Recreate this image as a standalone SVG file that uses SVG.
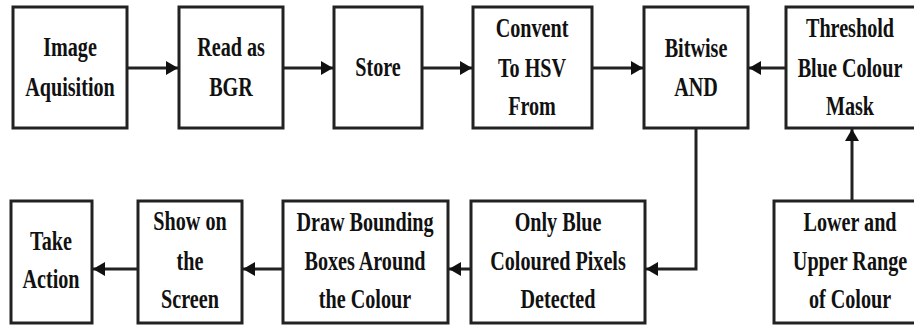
<svg xmlns="http://www.w3.org/2000/svg" width="914" height="325" viewBox="0 0 914 325">
<defs>
<marker id="ah" viewBox="0 0 12 14" refX="12" refY="7" markerWidth="12" markerHeight="14" markerUnits="userSpaceOnUse" orient="auto">
<path d="M0,0 L12,7 L0,14 Z" fill="#111"/>
</marker>
</defs>
<style>
rect{fill:#fff;stroke:#222;stroke-width:3}
text{font-family:"Liberation Serif","Times New Roman",serif;font-weight:bold;font-size:28px;fill:#111;text-anchor:middle}
.c{fill:none;stroke:#222;stroke-width:3}
</style>
<rect x="0" y="0" width="914" height="325" style="stroke:none;fill:#fff"/>
<g id="n1"><rect x="13" y="7" width="114" height="121"/>
<text transform="translate(70,56) scale(0.72,1)">Image</text>
<text transform="translate(70,96) scale(0.72,1)">Aquisition</text></g>
<g id="n2"><rect x="179" y="7" width="104" height="121"/>
<text transform="translate(231,56) scale(0.72,1)">Read as</text>
<text transform="translate(231,96) scale(0.72,1)">BGR</text></g>
<g id="n3"><rect x="334" y="7" width="88" height="121"/>
<text transform="translate(378,76) scale(0.72,1)">Store</text></g>
<g id="n4"><rect x="473" y="7" width="119" height="121"/>
<text transform="translate(532,37) scale(0.72,1)">Convent</text>
<text transform="translate(532,77) scale(0.72,1)">To HSV</text>
<text transform="translate(532,115) scale(0.72,1)">From</text></g>
<g id="n5"><rect x="644" y="7" width="104" height="121"/>
<text transform="translate(696,57) scale(0.72,1)">Bitwise</text>
<text transform="translate(696,96) scale(0.72,1)">AND</text></g>
<g id="n6"><rect x="786" y="7" width="140" height="121"/>
<text transform="translate(850,37) scale(0.72,1)">Threshold</text>
<text transform="translate(850,77) scale(0.72,1)">Blue Colour</text>
<text transform="translate(850,115) scale(0.72,1)">Mask</text></g>
<g id="n7"><rect x="774" y="201" width="152" height="122"/>
<text transform="translate(850,231) scale(0.72,1)">Lower and</text>
<text transform="translate(850,270) scale(0.72,1)">Upper Range</text>
<text transform="translate(850,308) scale(0.72,1)">of Colour</text></g>
<g id="n8"><rect x="471" y="201" width="174" height="122"/>
<text transform="translate(558,231) scale(0.72,1)">Only Blue</text>
<text transform="translate(558,270) scale(0.72,1)">Coloured Pixels</text>
<text transform="translate(558,308) scale(0.72,1)">Detected</text></g>
<g id="n9"><rect x="283" y="201" width="165" height="122"/>
<text transform="translate(365,231) scale(0.72,1)">Draw Bounding</text>
<text transform="translate(365,270) scale(0.72,1)">Boxes Around</text>
<text transform="translate(365,308) scale(0.72,1)">the Colour</text></g>
<g id="n10"><rect x="138" y="201" width="104" height="122"/>
<text transform="translate(190,230) scale(0.72,1)">Show on</text>
<text transform="translate(190,270) scale(0.72,1)">the</text>
<text transform="translate(190,308) scale(0.72,1)">Screen</text></g>
<g id="n11"><rect x="11" y="201" width="81" height="122"/>
<text transform="translate(51,250) scale(0.72,1)">Take</text>
<text transform="translate(51,288) scale(0.72,1)">Action</text></g>
<g id="connectors">
<path class="c" d="M127,68 H178" marker-end="url(#ah)"/>
<path class="c" d="M283,68 H333" marker-end="url(#ah)"/>
<path class="c" d="M422,68 H472" marker-end="url(#ah)"/>
<path class="c" d="M592,68 H643" marker-end="url(#ah)"/>
<path class="c" d="M786,68 H749" marker-end="url(#ah)"/>
<path class="c" d="M852,201 V129" marker-end="url(#ah)"/>
<path class="c" d="M696,128 V269 H646" marker-end="url(#ah)"/>
<path class="c" d="M471,269 H449" marker-end="url(#ah)"/>
<path class="c" d="M283,269 H243" marker-end="url(#ah)"/>
<path class="c" d="M138,269 H93" marker-end="url(#ah)"/>
</g>
</svg>
